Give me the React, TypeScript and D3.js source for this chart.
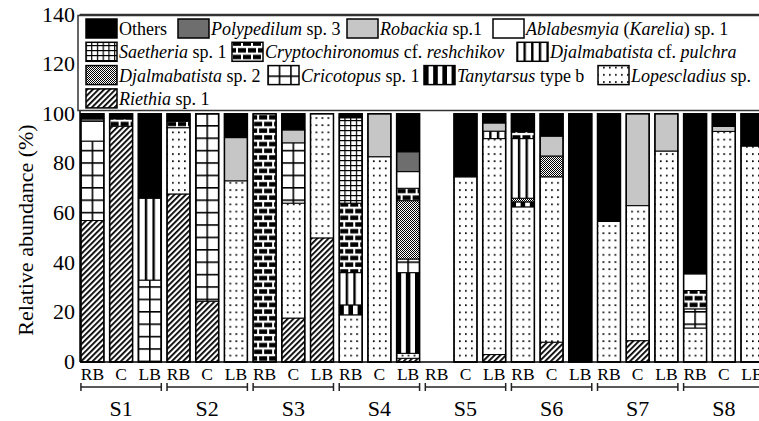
import React from 'react';
import * as d3 from 'd3';

const W = 759;
const H = 421;

const sites = ['S1', 'S2', 'S3', 'S4', 'S5', 'S6', 'S7', 'S8'];
const banks = ['RB', 'C', 'LB'];
const bars = sites.flatMap(s => banks.map(b => `${s}-${b}`));

// stacking order, bottom -> top
const species = [
  'Riethia', 'Lopescladius', 'Tanytarsus', 'Cricotopus', 'Dsp2', 'Dpulchra',
  'Crypto', 'Saetheria', 'Ablabesmyia', 'Robackia', 'Polypedilum', 'Others',
];

// relative abundance (%) per bar, in the order of `bars`
const riethia      = [57, 95, 0, 67.7, 24.5, 0, 0, 17.7, 50, 0, 0, 1.5, 0, 0, 3, 0, 8, 0, 0, 8.6, 0, 0, 0, 0];
const lopescladius = [0, 0, 0, 26.7, 0, 73, 0, 46.3, 50, 19, 82.7, 2, 0, 74.6, 87, 62.5, 66.6, 0, 56.6, 54.4, 85, 13.7, 92.9, 87];
const tanytarsus   = [0, 0, 0, 0, 0, 0, 0, 0, 0, 4, 0, 32.5, 0, 0, 0, 2, 0, 0, 0, 0, 0, 0, 0, 0];
const cricotopus   = [32, 0, 33, 0, 75.5, 0, 0, 24.3, 0, 0, 0, 5.5, 0, 0, 0, 0, 0, 0, 0, 0, 0, 7.7, 0, 0];
const djalSp2      = [0, 0, 0, 0, 0, 0, 0, 0, 0, 0, 0, 23.5, 0, 0, 0, 1.5, 8.4, 0, 0, 0, 0, 0, 0, 0];
const djalPulchra  = [0, 0, 33, 0, 0, 0, 0, 0, 0, 13, 0, 0, 0, 0, 3, 24, 0, 0, 0, 0, 0, 0, 0, 0];
const crypto       = [0, 3, 0, 2.6, 0, 0, 100, 0, 0, 28, 0, 5, 0, 0, 0, 2.8, 0, 0, 0, 0, 0, 7.4, 0, 0];
const saetheria    = [0, 0, 0, 0, 0, 0, 0, 0, 0, 34.4, 0, 0, 0, 0, 0, 0, 0, 0, 0, 0, 0, 0, 0, 0];
const ablabesmyia  = [8, 0, 0, 0, 0, 0, 0, 0, 0, 0, 0, 6.7, 0, 0, 0, 0, 0, 0, 0, 0, 0, 6.7, 0, 0];
const robackia     = [0, 0, 0, 0, 0, 17.4, 0, 5.2, 0, 0, 17.3, 0, 0, 0, 3.3, 0, 8, 0, 0, 37, 15, 0, 2, 0];
const polypedilum  = [1, 0, 0, 0, 0, 0, 0, 0, 0, 0, 0, 8, 0, 0, 0, 0, 0, 0, 0, 0, 0, 0, 0, 0];
const others       = [2, 2, 34, 3, 0, 9.6, 0, 6.5, 0, 1.6, 0, 15.3, 0, 25.4, 3.7, 7.2, 9, 100, 43.4, 0, 0, 64.5, 5.1, 13];

const seriesValues: Record<string, number[]> = {
  Riethia: riethia, Lopescladius: lopescladius, Tanytarsus: tanytarsus, Cricotopus: cricotopus,
  Dsp2: djalSp2, Dpulchra: djalPulchra, Crypto: crypto, Saetheria: saetheria,
  Ablabesmyia: ablabesmyia, Robackia: robackia, Polypedilum: polypedilum, Others: others,
};

const yTicks = [0, 20, 40, 60, 80, 100, 120, 140];

// legend rows: [key, label parts ([text, italic])]
const legendRows: [string, [string, boolean][]][][] = [
  [
    ['Others', [['Others', false]]],
    ['Polypedilum', [['Polypedilum', true], [' sp. 3', false]]],
    ['Robackia', [['Robackia', true], [' sp.1', false]]],
    ['Ablabesmyia', [['Ablabesmyia', true], [' (', false], ['Karelia', true], [') sp. 1', false]]],
  ],
  [
    ['Saetheria', [['Saetheria', true], [' sp. 1', false]]],
    ['Crypto', [['Cryptochironomus', true], [' cf. ', false], ['reshchikov', true]]],
    ['Dpulchra', [['Djalmabatista', true], [' cf. ', false], ['pulchra', true]]],
  ],
  [
    ['Dsp2', [['Djalmabatista', true], [' sp. 2', false]]],
    ['Cricotopus', [['Cricotopus', true], [' sp. 1', false]]],
    ['Tanytarsus', [['Tanytarsus', true], [' type b', false]]],
    ['Lopescladius', [['Lopescladius', true], [' sp.', false]]],
  ],
  [
    ['Riethia', [['Riethia', true], [' sp. 1', false]]],
  ],
];
// swatch left edges per row (px)
const legendX = [[86, 178, 347, 493], [86, 232, 517], [86, 268, 424, 598], [86]];

const solid: Record<string, string> = {
  Others: '#000', Polypedilum: '#6e6e6e', Robackia: '#c6c6c6', Ablabesmyia: '#fff',
};

const serif = '"Liberation Serif", "Times New Roman", Times, serif';

function Pattern({ id, kind, x0, bw }: { id: string; kind: string; x0: number; bw: number }) {
  const common = { id, patternUnits: 'userSpaceOnUse' as const };
  if (kind === 'Riethia') {
    return (
      <pattern {...common} width={4} height={4} patternTransform="rotate(45)">
        <rect width={4} height={4} fill="#fff" />
        <rect width={1.8} height={4} fill="#000" />
      </pattern>
    );
  }
  if (kind === 'Lopescladius') {
    return (
      <pattern {...common} x={x0 - 1} y={0} width={6} height={7.2}>
        <rect width={6} height={7.2} fill="#fff" />
        <rect x={0} y={2} width={1.7} height={1.7} fill="#000" />
      </pattern>
    );
  }
  if (kind === 'Tanytarsus') {
    const s = bw / 5;
    return (
      <pattern {...common} x={x0} y={0} width={2 * s} height={10}>
        <rect width={2 * s} height={10} fill="#fff" />
        <rect width={s} height={10} fill="#000" />
      </pattern>
    );
  }
  if (kind === 'Cricotopus') {
    const c = bw / 2;
    return (
      <pattern {...common} x={x0 - 0.8} y={1} width={c} height={12.4}>
        <rect width={c} height={12.4} fill="#fff" />
        <rect width={1.6} height={12.4} fill="#000" />
        <rect width={c} height={1.6} fill="#000" />
      </pattern>
    );
  }
  if (kind === 'Saetheria') {
    const c = bw / 4;
    return (
      <pattern {...common} x={x0 - 0.6} y={0} width={c} height={5}>
        <rect width={c} height={5} fill="#fff" />
        <rect width={1.2} height={5} fill="#000" />
        <rect width={c} height={1.2} fill="#000" />
      </pattern>
    );
  }
  if (kind === 'Dpulchra') {
    const c = bw / 3;
    return (
      <pattern {...common} x={x0 - 1.2} y={0} width={c} height={10}>
        <rect width={c} height={10} fill="#fff" />
        <rect width={2.4} height={10} fill="#000" />
      </pattern>
    );
  }
  if (kind === 'Crypto') {
    return (
      <pattern {...common} x={x0} y={0} width={10} height={13.4}>
        <rect width={10} height={13.4} fill="#fff" />
        <rect x={1} y={1.2} width={8} height={4.4} fill="#000" />
        <rect x={-4} y={7.9} width={8} height={4.4} fill="#000" />
        <rect x={6} y={7.9} width={8} height={4.4} fill="#000" />
      </pattern>
    );
  }
  // Djalmabatista sp. 2: fine checker, reads as mid grey
  return (
    <pattern {...common} width={2} height={2}>
      <rect width={2} height={2} fill="#fff" shapeRendering="crispEdges" />
      <rect width={1} height={1} fill="#000" shapeRendering="crispEdges" />
      <rect x={1} y={1} width={1} height={1} fill="#000" shapeRendering="crispEdges" />
    </pattern>
  );
}

export default function App() {
  const x = d3.scaleBand<string>().domain(bars).range([79.5, 765.4]).paddingInner(0.2).paddingOuter(0.05);
  const y = d3.scaleLinear().domain([0, 140]).range([362, 14.5]);
  const bw = x.bandwidth();

  const table = bars.map((b, i) => {
    const row: Record<string, number | string> = { bar: b };
    species.forEach(k => { row[k] = seriesValues[k][i]; });
    return row;
  });
  const stacked = d3.stack<Record<string, number | string>>().keys(species)(table as any);

  const defs: JSX.Element[] = [];
  const fillFor = (kind: string, id: string, x0: number) => {
    if (solid[kind]) return solid[kind];
    defs.push(<Pattern key={id} id={id} kind={kind} x0={x0} bw={bw} />);
    return `url(#${id})`;
  };

  const segments: JSX.Element[] = [];
  stacked.forEach(layer => {
    layer.forEach((d, i) => {
      const h = d[1] - d[0];
      if (h <= 0) return;
      const bx = x(bars[i])!;
      const fill = fillFor(layer.key, `p-${layer.key}-${i}`, bx);
      segments.push(
        <rect key={`${layer.key}-${i}`} x={bx} y={y(d[1])} width={bw} height={y(d[0]) - y(d[1])}
          fill={fill} stroke="#000" strokeWidth={1} />
      );
    });
  });

  const totals = bars.map((_, i) => d3.sum(species, k => seriesValues[k][i]));

  const legendItems: JSX.Element[] = [];
  legendRows.forEach((row, r) => {
    const top = 19 + r * 23.3;
    row.forEach(([key, parts], j) => {
      const sx = legendX[r][j];
      const fill = fillFor(key, `lg-${key}`, sx);
      legendItems.push(
        <g key={key}>
          <rect x={sx} y={top} width={31} height={19} fill={fill} stroke="#000" strokeWidth={1.5} />
          <text x={sx + 33} y={top + 16} fontSize={18} style={{ fontFamily: serif, whiteSpace: 'pre' }}>
            {parts.map(([t, it], n) => (
              <tspan key={n} fontStyle={it ? 'italic' : 'normal'}>{t}</tspan>
            ))}
          </text>
        </g>
      );
    });
  });

  return (
    <svg width={W} height={H} style={{ position: 'absolute', left: 0, top: 0, background: '#fff', fontFamily: serif }}>
      <defs>{defs}</defs>
      {/* frame */}
      <line x1={80} x2={W} y1={y(140)} y2={y(140)} stroke="#333" strokeWidth={1.5} />
      <line x1={80} x2={80} y1={y(140)} y2={y(0)} stroke="#000" strokeWidth={1.5} />
      {/* legend */}
      <rect x={78} y={15.5} width={720} height={95} fill="#fff" stroke="#333" strokeWidth={1.5} />
      {legendItems}
      {/* bars */}
      {segments}
      {bars.map((b, i) => totals[i] > 0 && (
        <rect key={`o-${b}`} x={x(b)} y={y(totals[i])} width={bw} height={y(0) - y(totals[i])}
          fill="none" stroke="#000" strokeWidth={1.5} />
      ))}
      <line x1={80} x2={W} y1={y(0)} y2={y(0)} stroke="#000" strokeWidth={1.5} />
      {/* y axis labels */}
      {yTicks.map(t => (
        <text key={t} x={75} y={y(t) + 7} textAnchor="end" fontSize={22} style={{ fontFamily: serif }}>{t}</text>
      ))}
      <text transform="translate(33,230) rotate(-90)" textAnchor="middle" fontSize={22} style={{ fontFamily: serif }}>
        Relative abundance (%)
      </text>
      {/* category labels */}
      {bars.map((b, i) => (
        <text key={`l-${b}`} x={x(b)! + bw / 2} y={380} textAnchor="middle" fontSize={17.5} style={{ fontFamily: serif }}>
          {banks[i % 3]}
        </text>
      ))}
      {/* site brackets */}
      {sites.map((s, gi) => {
        const x1 = x(bars[gi * 3])!;
        const x2 = x(bars[gi * 3 + 2])! + bw;
        const xm = x(bars[gi * 3 + 1])! + bw / 2;
        return (
          <g key={s}>
            <line x1={x1} x2={x2} y1={387} y2={387} stroke="#222" strokeWidth={1.5} />
            <line x1={x1} x2={x1} y1={383} y2={391} stroke="#222" strokeWidth={1.5} />
            <line x1={x2} x2={x2} y1={383} y2={391} stroke="#222" strokeWidth={1.5} />
            <text x={xm} y={416} textAnchor="middle" fontSize={22} style={{ fontFamily: serif }}>{s}</text>
          </g>
        );
      })}
    </svg>
  );
}
